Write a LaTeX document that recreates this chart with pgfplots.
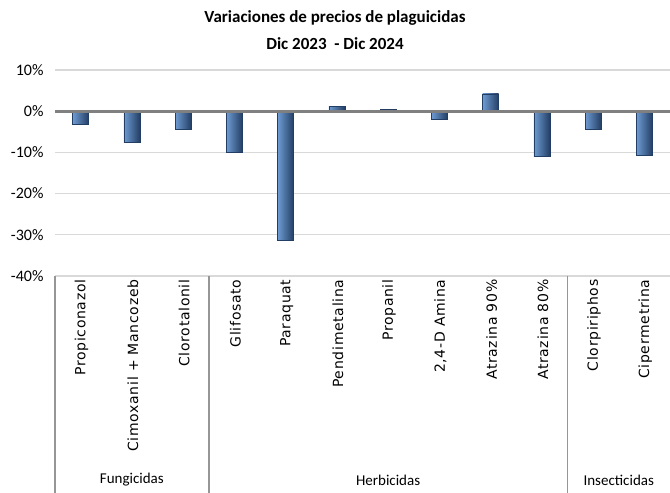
\documentclass[border=0pt]{standalone}
\usepackage{pgfplots}
\pgfplotsset{compat=1.18}
\usepackage{fontspec}
\setmainfont{Carlito}
\newfontfamily\catfont[LetterSpace=5]{DejaVu Sans}
\definecolor{barblue}{RGB}{79,129,189}
\definecolor{barlight}{RGB}{110,155,210}
\definecolor{bardark}{RGB}{35,62,100}
\definecolor{gridgray}{RGB}{217,217,217}
\definecolor{zerogray}{RGB}{128,128,128}
\definecolor{divgray}{RGB}{150,150,150}
\pgfplotsset{pbar/.style={ybar, bar width=16pt, bar shift=0pt, draw=bardark, line width=0.6pt,
  left color=barlight, middle color=barblue, right color=bardark}}
\begin{document}
\begin{tikzpicture}
\useasboundingbox (-55pt,-217pt) rectangle (615pt,276pt);
\begin{axis}[
  scale only axis, width=615pt, height=206pt,
  xmin=-0.5, xmax=11.5, ymin=-40, ymax=10,
  clip=false,
  axis line style={draw=none},
  tick style={draw=none},
  ytick={-40,-30,...,10},
  yticklabel={\pgfmathprintnumber{\tick}\%},
  /pgf/number format/assume math mode=true,
  y tick label style={font=\fontsize{16}{16}\selectfont, xshift=-8pt},
  ymajorgrids, major grid style={color=gridgray, line width=1.2pt},
  xtick={0,...,11},
  xticklabels={Propiconazol,Cimoxanil + Mancozeb,Clorotalonil,Glifosato,Paraquat,Pendimetalina,Propanil,2{,}4-D Amina,Atrazina 90\%,Atrazina 80\%,Clorpiriphos,Cipermetrina},
  x tick label style={rotate=90, anchor=east, font=\catfont\fontsize{14}{14}\selectfont, yshift=-1pt},
]
\addplot[pbar] coordinates {(0,-3.2)};
\addplot[pbar] coordinates {(1,-7.5)};
\addplot[pbar] coordinates {(2,-4.4)};
\addplot[pbar] coordinates {(3,-9.9)};
\addplot[pbar] coordinates {(4,-31.3)};
\addplot[pbar] coordinates {(5,1.2)};
\addplot[pbar] coordinates {(6,0.5)};
\addplot[pbar] coordinates {(7,-2.0)};
\addplot[pbar] coordinates {(8,4.2)};
\addplot[pbar] coordinates {(9,-10.9)};
\addplot[pbar] coordinates {(10,-4.3)};
\addplot[pbar] coordinates {(11,-10.7)};
\draw[zerogray, line width=3pt] (axis cs:-0.5,0) -- (axis cs:11.5,0);
\draw[divgray, line width=1.5pt] (axis cs:-0.5,-40) -- ([yshift=-217pt]axis cs:-0.5,-40);
\draw[divgray, line width=1.5pt] (axis cs:2.5,-40) -- ([yshift=-217pt]axis cs:2.5,-40);
\draw[divgray, line width=1.5pt] (axis cs:9.5,-40) -- ([yshift=-217pt]axis cs:9.5,-40);
\node[font=\fontsize{15}{15}\selectfont] at ([yshift=-204pt]axis cs:1,-40) {Fungicidas};
\node[font=\fontsize{15}{15}\selectfont] at ([yshift=-204pt]axis cs:6,-40) {Herbicidas};
\node[font=\fontsize{15}{15}\selectfont] at ([yshift=-204pt]axis cs:10.5,-40) {Insecticidas};
\end{axis}
\node[font=\bfseries\fontsize{17}{17}\selectfont] at (280pt,258pt) {Variaciones de precios de plaguicidas};
\node[font=\bfseries\fontsize{17}{17}\selectfont] at (280pt,232pt) {Dic 2023 \ - Dic 2024};
\end{tikzpicture}
\end{document}
